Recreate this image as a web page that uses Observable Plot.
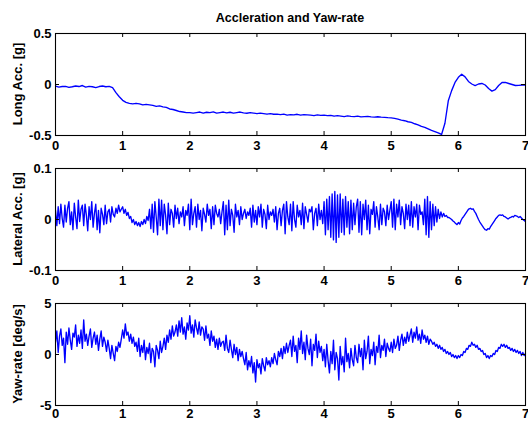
<!DOCTYPE html>
<html><head><meta charset="utf-8">
<script src="https://cdn.jsdelivr.net/npm/d3@7"></script>
<script src="https://cdn.jsdelivr.net/npm/@observablehq/plot@0.6"></script>
<style>
body{margin:0;background:#fff;overflow:hidden}
#root{position:relative;width:528px;height:421px;overflow:hidden;font-family:"Liberation Sans",Arial,sans-serif;font-weight:bold;color:#000}
.title{position:absolute;left:55px;width:470px;top:11px;text-align:center;font-size:12.5px;line-height:14px}
.ylab{position:absolute;font-size:13px;line-height:14px;white-space:nowrap;transform:translate(-50%,-50%) rotate(-90deg)}
.panel{position:absolute;left:0}
</style></head><body><div id="root"></div><script>
const title = "Accleration and Yaw-rate";
const xTicks = [0,1,2,3,4,5,6,7];
const xDomain = [0,7];

// Longitudinal acceleration [g], sampled every 0.05 s from 0 to 7 s
const longAcc = [
-.015,-.025,-.02,-.018,-.028,-.022,-.015,-.02,-.01,-.025,-.018,-.022,-.03,-.02,-.015,-.022,-.018,
-.03,-.08,-.12,-.155,-.175,-.185,-.19,-.185,-.19,-.2,-.195,-.2,-.205,-.215,-.21,-.22,-.225,-.24,-.245,-.255,-.265,-.27,-.275,-.275,
-.28,-.275,-.27,-.28,-.272,-.275,-.268,-.28,-.275,-.27,-.278,-.272,-.28,-.275,-.27,-.278,-.282,-.275,-.28,-.285,
-.28,-.285,-.29,-.285,-.292,-.29,-.295,-.29,-.3,-.295,-.298,-.292,-.3,-.296,-.298,-.3,-.305,-.298,-.302,-.3,
-.305,-.302,-.31,-.305,-.31,-.315,-.308,-.312,-.315,-.31,-.318,-.315,-.312,-.318,-.32,-.316,-.32,-.322,-.325,-.327,
-.332,-.34,-.35,-.355,-.365,-.372,-.385,-.395,-.41,-.42,-.435,-.45,-.462,-.475,-.49,
-.38,-.16,-.06,.02,.07,.1,.075,.03,.005,-.01,.005,.01,-.005,-.04,-.065,-.05,-.01,.02,.02,.01,.0,-.01,-.008,-.005,-.005
];
const longTicks = [-0.5,0,0.5];
const longDomain = [-0.5,0.5];

// Lateral acceleration [g], sampled every 0.02 s
const latAcc = [
.018,-.012,.025,-.008,.03,.002,-.015,.028,-.005,.022,
.035,-.01,.015,-.02,.032,.005,-.018,.038,-.004,.02,
.028,-.012,.03,.008,-.022,.025,.0,.035,-.015,.012,
.03,-.02,.018,-.026,.022,.01,-.01,.028,-.008,.015,
.02,-.005,.025,.01,.005,.022,.012,.028,.015,.02,
.025,.012,.02,.008,.014,.002,.006,-.006,.0,-.01,
-.004,-.012,-.006,-.014,-.004,-.01,.0,-.008,.006,-.002,
.02,-.018,.03,-.025,.035,.005,-.03,.04,-.012,.038,
-.02,.03,.008,-.028,.032,-.01,.02,.012,-.015,.028,
.002,.022,-.008,.015,.005,.025,-.012,.018,.008,.03,
-.02,.04,-.01,.012,.025,-.015,.03,.0,.018,-.022,
.022,.01,-.005,.03,.008,.02,-.018,.025,-.01,.028,
.012,.005,.02,-.008,.015,
.035,-.03,.028,-.02,.038,-.012,.02,.008,-.025,.03,
.005,.018,-.01,.025,.0,.012,.02,.002,.015,.008,
.022,-.015,.028,-.005,.018,
-.01,.025,.005,.03,-.015,.02,.01,-.018,.028,.0,
.015,.008,.02,-.005,.025,-.02,.012,.022,-.012,.018,
.03,-.028,.035,.005,-.01,
.03,-.022,.035,.0,-.015,.028,.005,.018,-.01,.032,
-.018,.025,.01,-.005,.02,.015,.025,-.02,.012,.022,
-.012,.03,.0,.018,-.008,
.035,-.03,.04,-.02,.045,-.035,.05,-.04,.055,-.045,
.048,-.035,.05,-.025,.04,-.03,.045,-.015,.035,-.028,
.038,-.02,.032,-.01,.025,
.04,-.025,.035,-.03,.03,.0,.038,-.02,.028,-.028,
.02,.01,.035,-.015,.025,.005,-.02,.03,-.01,.022,
.015,-.012,.028,.0,.018,
.035,-.015,.04,-.02,.03,.005,.038,-.01,.025,.012,
-.018,.03,.0,.028,-.012,.035,-.015,.025,.005,.03,
-.02,.028,.01,.015,-.01,
.04,-.03,.045,-.035,.035,-.02,.03,-.012,.025,-.005,
.02,.002,.015,.005,.012,.006,.008,.004,
.004,.002,.0,-.003,-.005,-.008,-.01,
-.006,-.009,-.002,.003,.006,.01,.014,.018,.021,.022,
.02,.021,.016,.012,.006,.0,-.005,-.009,-.013,-.017,
-.02,-.021,-.018,-.019,-.014,-.01,-.006,-.002,.002,.005,
.008,.009,.008,.009,.006,.005,.003,.001,.003,.004,
.006,.005,.008,.007,.006,.004,.006,.003,.0,-.002,
-.004
];
const latTicks = [-0.1,0,0.1];
const latDomain = [-0.1,0.1];

// Yaw-rate [deg/s], sampled every 0.02 s
const yawRate = [
1.2,2.3,0.2,1.8,2.5,0.9,1.6,-0.8,2.2,1.0,
2.6,1.4,0.5,2.1,1.7,2.9,0.8,1.9,1.1,2.4,
0.6,3.4,1.3,2.0,0.9,
1.8,2.5,0.7,1.6,2.2,1.0,1.9,0.4,1.5,2.3,
0.8,1.7,1.2,0.3,1.4,
0.6,-0.4,0.9,0.1,-0.6,0.8,0.3,1.2,0.7,1.5,
2.4,1.6,3.0,1.9,2.2,1.3,2.0,1.1,1.7,0.8,
1.2,0.3,1.6,-0.2,0.9,0.2,1.4,-0.5,0.7,0.1,
1.1,-0.8,0.6,0.3,-1.2,0.9,0.4,-0.4,1.3,0.2,
0.8,1.6,0.5,1.9,1.2,2.4,1.5,2.8,1.8,2.2,
2.9,1.8,3.3,2.2,3.6,2.0,2.7,1.5,3.1,2.4,
3.8,2.1,2.9,1.7,3.4,2.6,2.0,3.2,1.9,2.7,
2.5,1.4,2.8,1.6,2.0,0.9,2.3,1.3,1.8,0.7,1.5,0.5,1.6,0.8,1.2,
1.3,0.4,1.9,0.6,0.2,1.4,0.5,-0.3,1.0,0.0,0.7,-0.6,0.5,-0.2,0.3,
-0.4,-1.0,0.2,-1.5,-0.6,-1.2,-0.2,-1.8,-0.8,-2.7,
-0.5,-1.3,-0.9,-1.9,-0.4,-1.1,-1.6,-0.3,-1.0,-0.6,
-1.2,-0.3,-0.9,0.1,-0.5,-1.0,0.3,-0.2,0.6,-0.4,0.8,0.1,1.1,0.2,0.9,
1.4,-0.2,1.8,0.3,0.9,-0.8,1.6,0.5,2.3,0.1,
1.2,-0.5,1.9,0.6,0.0,1.5,-1.1,1.0,0.4,2.0,
-0.3,1.3,0.2,0.8,-0.6,
0.5,-1.2,1.0,-0.6,-1.8,0.3,-0.9,1.4,-1.5,0.2,
-0.4,-2.5,0.8,-1.0,-0.2,-1.7,1.6,-0.7,0.1,-1.3,
0.6,-0.5,-1.1,0.9,-0.3,
-0.8,1.0,-0.2,0.6,-1.5,1.4,-0.4,0.3,1.8,-0.9,
0.5,-0.1,1.2,-1.0,0.8,0.2,1.9,-0.3,0.9,0.4,
1.5,-0.2,1.1,0.6,0.3,
1.2,0.2,1.5,0.6,0.9,1.8,0.4,1.4,2.0,0.9,1.7,1.1,2.2,1.3,1.9,
2.5,1.2,2.2,1.6,2.7,1.4,2.0,1.1,2.4,1.5,1.9,1.2,1.8,1.0,1.5,
1.3,1.0,1.2,0.8,1.0,0.6,0.9,0.5,0.7,0.3,
0.5,0.1,0.3,0.0,0.2,-0.2,0.0,-0.3,-0.1,-0.4,
-0.1,-0.3,0.0,-0.1,0.3,0.2,0.6,0.5,0.9,0.8,
1.2,0.9,1.0,0.7,0.9,0.5,0.6,0.3,0.4,0.0,
0.1,-0.3,-0.1,-0.4,-0.1,-0.2,0.1,0.0,0.4,0.3,
0.7,0.6,1.0,0.8,1.0,0.7,0.9,0.6,0.7,0.4,
0.6,0.3,0.5,0.2,0.4,0.1,0.3,-0.1,0.2,-0.1,
0.1
];
const yawTicks = [-5,0,5];
const yawDomain = [-5,5];

const root = document.getElementById("root");
const t = document.createElement("div");
t.className = "title"; t.textContent = title; root.appendChild(t);

function panel(values, yDomain, yTicks, label, plotTop, xPad) {
  const n = values.length;
  const data = values.map((v, i) => ({t: xDomain[0] + i * (xDomain[1] - xDomain[0]) / (n - 1), v}));
  const W = 528, mt = 6, mb = 20, ml = 55, mr = 3;
  const ph = 102, H = ph + mt + mb, pw = W - ml - mr, tk = 4;
  const svg = Plot.plot({
    width: W, height: H, marginTop: mt, marginBottom: mb, marginLeft: ml, marginRight: mr,
    style: {fontFamily: "'Liberation Sans', Arial, sans-serif", fontSize: "13px", fontWeight: "bold", color: "#000", background: "transparent", overflow: "visible"},
    x: {domain: xDomain},
    y: {domain: yDomain},
    marks: [
      Plot.line(data, {x: "t", y: "v", stroke: "#0000ff", strokeWidth: 1.35, clip: true}),
      Plot.frame({stroke: "#000", strokeWidth: 1.1}),
      Plot.tickX(xTicks, {x: d => d, insetTop: ph - tk, stroke: "#000"}),
      Plot.tickX(xTicks, {x: d => d, insetBottom: ph - tk, stroke: "#000"}),
      Plot.tickY(yTicks, {y: d => d, insetRight: pw - tk, stroke: "#000"}),
      Plot.tickY(yTicks, {y: d => d, insetLeft: pw - tk, stroke: "#000"}),
      Plot.axisX({ticks: xTicks, tickSize: 0, tickPadding: xPad, tickFormat: d => String(d), label: null}),
      Plot.axisY({ticks: yTicks, tickSize: 0, tickPadding: 4, tickFormat: d => String(d), label: null})
    ]
  });
  svg.classList.add("panel");
  svg.style.top = (plotTop - mt) + "px";
  root.appendChild(svg);
  const yl = document.createElement("div");
  yl.className = "ylab"; yl.textContent = label;
  yl.style.left = "17.5px"; yl.style.top = (plotTop + ph / 2) + "px";
  root.appendChild(yl);
}
panel(longAcc, longDomain, longTicks, "Long Acc. [g]", 33, 5);
panel(latAcc, latDomain, latTicks, "Lateral Acc. [g]", 168, 5);
panel(yawRate, yawDomain, yawTicks, "Yaw-rate [deg/s]", 303, 3);
</script></body></html>
